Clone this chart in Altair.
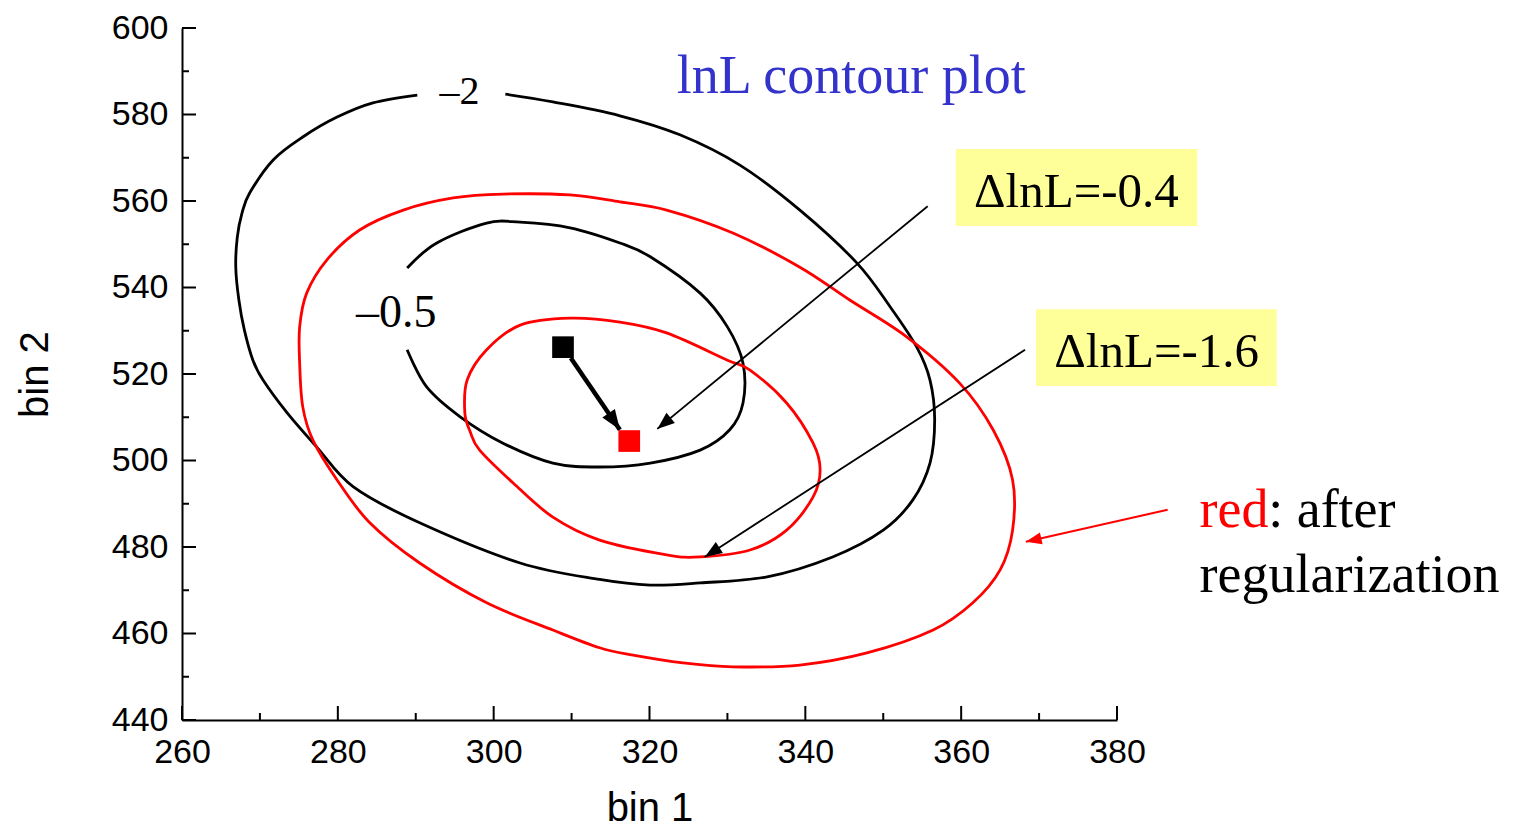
import math
import altair as alt
import pandas as pd

# plot area size (pixels) and axis ranges
W, H = 935, 692
X_DOMAIN = [260, 380]
Y_DOMAIN = [440, 600]

# lnL = -2 contour before regularization (open where the "-2" label sits)
c2_x = [301.5, 307.6, 316.2, 323.9, 331.6, 339.3, 346.6, 350.9, 354.3, 356.0, 356.6,
        356.0, 353.8, 350.0, 343.5, 335.1, 326.5, 320.1, 313.6, 303.4, 290.5, 282.0,
        277.3, 273.5, 270.4, 269.1, 268.0, 267.3, 266.9, 267.1, 267.7, 268.7, 271.7,
        275.5, 279.9, 284.5, 290.2]
c2_y = [584.7, 582.9, 579.7, 575.3, 568.3, 557.9, 545.7, 535.5, 526.2, 518.6, 509.4,
        499.4, 490.9, 483.9, 477.7, 473.1, 471.7, 471.2, 472.5, 476.3, 485.6, 493.9,
        503.1, 511.0, 518.6, 523.2, 530.2, 537.1, 544.7, 551.7, 557.2, 561.9, 569.5,
        574.8, 579.4, 582.7, 584.5]

# lnL = -0.5 contour before regularization (open where the "-0.5" label sits)
c05_x = [288.9, 292.7, 299.1, 303.4, 309.8, 316.2, 320.1, 326.5, 330.0, 332.0, 332.0,
         330.3, 326.5, 320.1, 313.6, 307.6, 301.2, 295.7, 291.4, 288.9]
c05_y = [544.5, 550.3, 554.9, 555.1, 553.8, 550.3, 547.1, 538.7, 530.9, 522.5, 513.3,
         507.1, 502.4, 499.4, 498.5, 499.4, 504.0, 510.1, 517.0, 525.6]

# outer contour after regularization (closed)
r_out_x = [275.1, 276.0, 278.6, 282.8, 288.4, 294.8, 301.2, 309.8, 316.2, 322.2, 330.7,
           339.3, 345.7, 353.0, 359.8, 364.1, 366.6, 366.6, 365.0, 361.5, 356.4, 347.9,
           339.3, 330.7, 324.3, 317.9, 313.6, 307.6, 299.1, 290.5, 284.1, 279.9, 276.8,
           275.5, 275.1]
r_out_y = [530.9, 538.7, 546.4, 553.3, 557.9, 560.7, 561.6, 561.4, 559.8, 557.9, 552.6,
           544.7, 537.1, 528.6, 517.9, 507.1, 495.5, 483.9, 474.7, 467.1, 460.8, 455.5,
           452.7, 452.3, 453.2, 455.0, 456.7, 460.8, 467.1, 476.3, 485.6, 495.5, 504.7,
           512.4, 522.5]

# inner contour after regularization (closed)
r_in_x = [296.3, 296.6, 299.1, 303.4, 309.8, 316.2, 322.2, 330.0, 332.9, 337.6, 341.0,
          341.9, 341.0, 337.6, 332.9, 326.5, 322.2, 313.6, 307.6, 302.5, 298.2, 297.0]
r_in_y = [511.0, 518.6, 525.6, 531.3, 532.9, 532.0, 529.5, 523.2, 520.9, 513.3, 504.0,
          497.8, 491.6, 483.9, 479.3, 477.7, 478.2, 481.6, 486.9, 494.8, 502.4, 506.6]

# best-fit points: before (black) and after (red) regularization
best_x = [308.9, 317.4]
best_y = [526.2, 504.5]
best_color = ["#000000", "#ff0000"]

# contour level labels
lvl_text = ["\u20132", "\u20130.5"]
lvl_x = [295.6, 287.5]
lvl_y = [582.4, 530.9]
lvl_size = [40, 46]

# arrows: start point, tip, colour, stroke width, head size
arr_x = [309.9, 355.7, 368.2, 386.5]
arr_y = [523.7, 558.8, 525.6, 488.6]
arr_x2 = [316.2, 321.0, 327.1, 368.3]
arr_y2 = [507.1, 507.3, 477.7, 481.2]
arr_color = ["#000000", "#000000", "#000000", "#ff0000"]
arr_width = [4.5, 1.8, 1.8, 2.0]
arr_head = [1600, 1200, 1200, 1000]

# yellow annotation boxes
box_x = [359.3, 369.6]
box_x2 = [390.3, 400.5]
box_y = [572.0, 535.0]
box_y2 = [554.2, 517.2]
box_text = ["\u0394lnL=-0.4", "\u0394lnL=-1.6"]
box_tx = [374.8, 385.1]
box_ty = [558.6, 521.6]

# free text
note_text = ["lnL contour plot", "red", ": after", "regularization"]
note_x = [323.5, 390.6, 399.4, 390.6]
note_y = [585.0, 484.6, 484.6, 469.6]
note_color = ["#3333cc", "#ff0000", "#000000", "#000000"]
note_size = [54, 54, 54, 54]

# axis ticks (drawn inward)
x_major = list(range(260, 381, 20))
x_minor = list(range(270, 371, 20))
y_major = list(range(440, 601, 20))
y_minor = list(range(450, 591, 20))

SERIF = "Liberation Serif"
SANS = "Liberation Sans"

xs = alt.Scale(domain=X_DOMAIN, nice=False, zero=False)
ys = alt.Scale(domain=Y_DOMAIN, nice=False, zero=False)

x_axis = alt.Axis(values=x_major, tickSize=0, domainColor="black", domainWidth=2,
                  labelFont=SANS, labelFontSize=34, labelColor="black", labelPadding=15,
                  labelFlush=False, labelOverlap=False, grid=False,
                  title="bin 1", titleFont=SANS, titleFontSize=40, titleFontWeight="normal",
                  titleColor="black", titlePadding=19)
y_axis = alt.Axis(values=y_major, tickSize=0, domainColor="black", domainWidth=2,
                  labelFont=SANS, labelFontSize=34, labelColor="black", labelPadding=14,
                  labelFlush=False, labelOverlap=False, grid=False,
                  title="bin 2", titleFont=SANS, titleFontSize=40, titleFontWeight="normal",
                  titleColor="black", titlePadding=56)


def X(field="x"):
    return alt.X(f"{field}:Q", scale=xs, axis=x_axis)


def Y(field="y"):
    return alt.Y(f"{field}:Q", scale=ys, axis=y_axis)


def curve(xv, yv, color, interp):
    df = pd.DataFrame({"x": xv, "y": yv, "i": range(len(xv))})
    return alt.Chart(df).mark_line(color=color, strokeWidth=2.8, interpolate=interp).encode(
        x=X(), y=Y(), order="i:Q")


layers = []

# yellow boxes behind everything
boxes = pd.DataFrame({"x": box_x, "x2": box_x2, "y": box_y, "y2": box_y2})
layers.append(alt.Chart(boxes).mark_rect(color="#ffff99").encode(
    x=X(), x2="x2:Q", y=Y(), y2="y2:Q"))

layers.append(curve(c2_x, c2_y, "#000000", "cardinal"))
layers.append(curve(c05_x, c05_y, "#000000", "cardinal"))
layers.append(curve(r_out_x, r_out_y, "#ff0000", "cardinal-closed"))
layers.append(curve(r_in_x, r_in_y, "#ff0000", "cardinal-closed"))

# inward tick marks
for vals, length in ((x_major, 14), (x_minor, 7)):
    layers.append(alt.Chart(pd.DataFrame({"x": vals})).mark_rule(color="black", strokeWidth=2).encode(
        x=X(), y=alt.value(H), y2=alt.value(H - length)))
for vals, length in ((y_major, 14), (y_minor, 7)):
    layers.append(alt.Chart(pd.DataFrame({"y": vals})).mark_rule(color="black", strokeWidth=2).encode(
        y=Y(), x=alt.value(0), x2=alt.value(length)))

# arrows: shafts and heads (head rotated along the shaft direction on screen)
px_per_x = W / (X_DOMAIN[1] - X_DOMAIN[0])
px_per_y = H / (Y_DOMAIN[1] - Y_DOMAIN[0])
angles = []
for x0, y0, x1, y1 in zip(arr_x, arr_y, arr_x2, arr_y2):
    dx = (x1 - x0) * px_per_x
    dy = -(y1 - y0) * px_per_y
    angles.append(math.degrees(math.atan2(dx, -dy)) % 360)
arrows = pd.DataFrame({"x": arr_x, "y": arr_y, "x2": arr_x2, "y2": arr_y2,
                       "c": arr_color, "w": arr_width, "s": arr_head, "a": angles})
layers.append(alt.Chart(arrows).mark_rule().encode(
    x=X(), y=Y(), x2="x2:Q", y2="y2:Q",
    color=alt.Color("c:N", scale=None), strokeWidth=alt.StrokeWidth("w:Q", scale=None)))
layers.append(alt.Chart(arrows).mark_point(
    shape="M0,0 L-0.38,1 L0.38,1 Z", filled=True, opacity=1, strokeWidth=0).encode(
    x=alt.X("x2:Q", scale=xs, axis=x_axis), y=alt.Y("y2:Q", scale=ys, axis=y_axis),
    color=alt.Color("c:N", scale=None), size=alt.Size("s:Q", scale=None),
    angle=alt.Angle("a:Q", scale=None)))

# best-fit squares
best = pd.DataFrame({"x": best_x, "y": best_y, "c": best_color})
layers.append(alt.Chart(best).mark_point(shape="square", filled=True, size=470, opacity=1).encode(
    x=X(), y=Y(), color=alt.Color("c:N", scale=None)))

# contour level labels
lvl = pd.DataFrame({"x": lvl_x, "y": lvl_y, "t": lvl_text, "s": lvl_size})
layers.append(alt.Chart(lvl).mark_text(font=SERIF, color="black", align="center", baseline="alphabetic").encode(
    x=X(), y=Y(), text="t:N", size=alt.Size("s:Q", scale=None)))

# box labels
bl = pd.DataFrame({"x": box_tx, "y": box_ty, "t": box_text})
layers.append(alt.Chart(bl).mark_text(font=SERIF, fontSize=49, color="black", align="center",
                                      baseline="alphabetic").encode(x=X(), y=Y(), text="t:N"))

# title and notes
notes = pd.DataFrame({"x": note_x, "y": note_y, "t": note_text, "c": note_color, "s": note_size})
layers.append(alt.Chart(notes).mark_text(font=SERIF, align="left", baseline="alphabetic").encode(
    x=X(), y=Y(), text="t:N", color=alt.Color("c:N", scale=None), size=alt.Size("s:Q", scale=None)))

chart = alt.layer(*layers).properties(
    width=W, height=H,
    autosize=alt.AutoSizeParams(type="none"),
    padding={"left": 182, "top": 28, "right": 396, "bottom": 112},
    background="white",
).configure_view(stroke=None)

chart.save("out.html", embed_options={"renderer": "svg", "actions": False})
